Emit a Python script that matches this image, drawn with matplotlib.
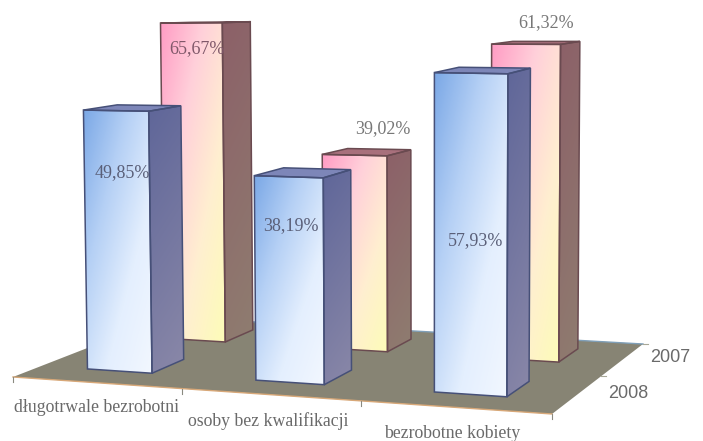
import numpy as np
import matplotlib
matplotlib.use('Agg')
import matplotlib.pyplot as plt
from matplotlib.colors import LinearSegmentedColormap
from matplotlib.patches import Polygon

categories = ['długotrwale bezrobotni', 'osoby bez kwalifikacji', 'bezrobotne kobiety']
series_names = ['2008', '2007']
values_2008 = [49.85, 38.19, 57.93]
values_2007 = [65.67, 39.02, 61.32]

# layout, in pixels of the 703x441 picture
floor_corners = [(13, 377), (552, 414), (643, 344), (167, 317)]
bar_w = 0.39
bar_d = 0.42
row_v = [0.54, 1.53]
row_du = [-0.022, -0.012]
label_xy = [(97, 407), (268, 421), (452, 434)]
series_xy = [(628, 393), (670, 358)]
value_xy_2008 = [(122, 173), (291, 226), (476, 241)]
value_xy_2007 = [(197, 49), (383, 129), (546, 23)]


def make_homography(corners):
    src = [(0, 0), (3, 0), (3, 2), (0, 2)]
    A, b = [], []
    for (u, v), (x, y) in zip(src, corners):
        A.append([u, v, 1, 0, 0, 0, -u * x, -v * x])
        A.append([0, 0, 0, u, v, 1, -u * y, -v * y])
        b += [x, y]
    h = np.linalg.solve(np.array(A, float), np.array(b, float))
    return np.append(h, 1).reshape(3, 3)


H = make_homography(floor_corners)


def project(u, v, z=0):
    p = H @ np.array([u, v, 1.0])
    x, y = p[0] / p[2], p[1] / p[2]
    k = 5.28 + 0.16 * u - 0.4 * v
    h = z * k
    return x + (x - 433) * h * 4.5e-5, y - h


def face(ax, poly, cmap, angle=(1, 1), zorder=2):
    poly = np.array(poly)
    x0, x1 = poly[:, 0].min(), poly[:, 0].max()
    y0, y1 = poly[:, 1].min(), poly[:, 1].max()
    xx, yy = np.meshgrid(np.linspace(0, 1, 60), np.linspace(0, 1, 120))
    g = (xx * angle[0] + yy * angle[1]) / (angle[0] + angle[1])
    im = ax.imshow(g, cmap=cmap, vmin=0, vmax=1, extent=(x0, x1, y1, y0), aspect='auto',
                   zorder=zorder, interpolation='bilinear')
    im.set_clip_path(Polygon(poly, closed=True, transform=ax.transData))


def bar3d(ax, u, v, value, front, side, top, edge, zorder):
    ul, ur = u - bar_w / 2, u + bar_w / 2
    vf, vb = v - bar_d / 2, v + bar_d / 2
    fl0, fr0, br0 = project(ul, vf), project(ur, vf), project(ur, vb)
    fl1, fr1, br1, bl1 = project(ul, vf, value), project(ur, vf, value), project(ur, vb, value), project(ul, vb, value)
    face(ax, [fl0, fr0, fr1, fl1], front, angle=(1, 1), zorder=zorder)
    face(ax, [fr0, br0, br1, fr1], side, angle=(0.2, 1), zorder=zorder)
    ax.add_patch(Polygon([fl1, fr1, br1, bl1], closed=True, fc=top, ec='none', zorder=zorder))
    for poly in ([fl0, fr0, fr1, fl1], [fr0, br0, br1, fr1], [fl1, fr1, br1, bl1]):
        ax.add_patch(Polygon(poly, closed=True, fc='none', ec=edge, lw=1.1, zorder=zorder + 0.1))


front_2008 = LinearSegmentedColormap.from_list('f08', ['#7ba8e6', '#b5d0f5', '#e4effe', '#f2f7ff'])
side_2008 = LinearSegmentedColormap.from_list('s08', ['#5f6699', '#8a88a8'])
front_2007 = LinearSegmentedColormap.from_list('f07', ['#ff9cc4', '#ffd0da', '#ffefd0', '#fdfcb8'])
side_2007 = LinearSegmentedColormap.from_list('s07', ['#8c6068', '#8f7d70'])

fig = plt.figure(figsize=(7.03, 4.41), dpi=100)
ax = fig.add_axes([0, 0, 1, 1])

# floor
ax.add_patch(Polygon(floor_corners, closed=True, fc='#878474', ec='none', zorder=1))
ax.plot([floor_corners[0][0], floor_corners[1][0]], [floor_corners[0][1], floor_corners[1][1]],
        color='#d8a878', lw=1, zorder=1.5)
ax.plot([floor_corners[3][0], floor_corners[2][0]], [floor_corners[3][1], floor_corners[2][1]],
        color='#7f9fb8', lw=1, zorder=1.5)
for i in range(4):
    x, y = project(i, 0)
    ax.plot([x, x], [y, y + 5], color='#8a8a80', lw=0.8, zorder=1.5)
for i in range(1, 3):
    x, y = project(3, i)
    ax.plot([x, x + 5], [y, y], color='#a8a898', lw=0.8, zorder=1.5)

for i, val in enumerate(values_2007):
    bar3d(ax, i + 0.5 + row_du[1], row_v[1], val, front_2007, side_2007, '#a8707c', '#6a4a50', 3 + i * 0.2)
for i, val in enumerate(values_2008):
    bar3d(ax, i + 0.5 + row_du[0], row_v[0], val, front_2008, side_2008, '#7d86b8', '#465078', 5 + i * 0.2)

for name, (x, y) in zip(categories, label_xy):
    ax.text(x, y, name, ha='center', va='center', family='Liberation Serif', fontsize=12.8, color='#6a6a6a', zorder=8)
for name, (x, y) in zip(series_names, series_xy):
    ax.text(x, y, name, ha='center', va='center', family='Liberation Sans', fontsize=13, color='#6a6a6a', zorder=8)

for val, (x, y) in zip(values_2008, value_xy_2008):
    ax.text(x, y, f'{val:.2f}%'.replace('.', ','), ha='center', va='center', family='Liberation Serif',
            fontsize=13, color='#5a5f78', zorder=8)
for i, (val, (x, y)) in enumerate(zip(values_2007, value_xy_2007)):
    ax.text(x, y, f'{val:.2f}%'.replace('.', ','), ha='center', va='center', family='Liberation Serif',
            fontsize=13, color='#80586a' if i == 0 else '#777777', zorder=8)

ax.set_xlim(0, 703)
ax.set_ylim(441, 0)
ax.axis('off')
fig.savefig('out.png', dpi=100)
